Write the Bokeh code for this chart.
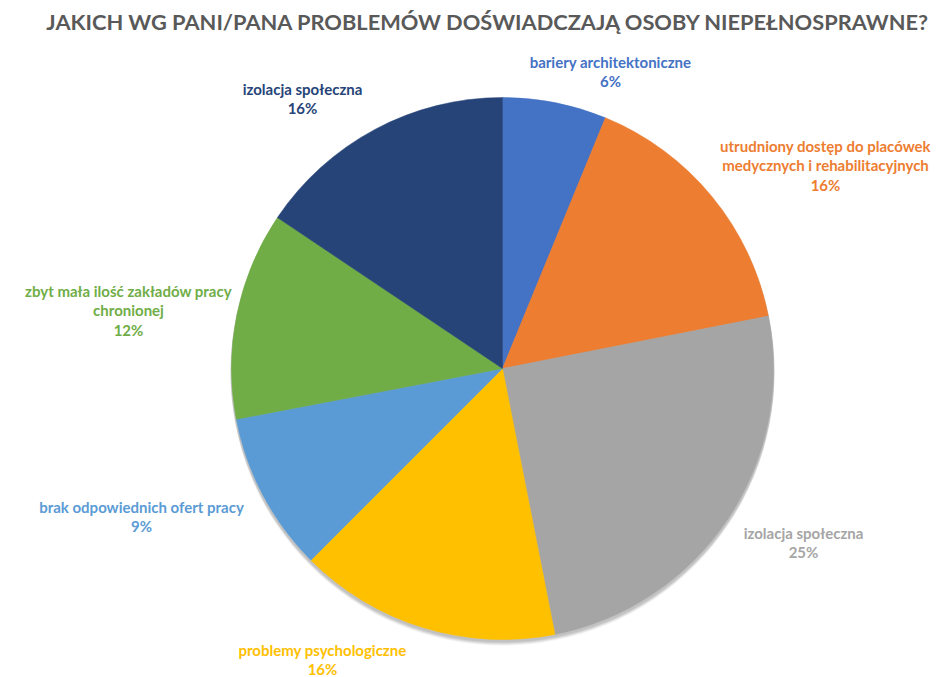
import math
from bokeh.plotting import figure
from bokeh.models import ColumnDataSource, Range1d
from bokeh.core.properties import value
from bokeh.embed import file_html
from bokeh.resources import INLINE

title = "JAKICH WG PANI/PANA PROBLEMÓW DOŚWIADCZAJĄ OSOBY NIEPEŁNOSPRAWNE?"
categories = [
    "bariery architektoniczne",
    "utrudniony dostęp do placówek medycznych i rehabilitacyjnych",
    "izolacja społeczna",
    "problemy psychologiczne",
    "brak odpowiednich ofert pracy",
    "zbyt mała ilość zakładów pracy chronionej",
    "izolacja społeczna",
]
values = [6.2, 15.7, 25.0, 15.6, 9.5, 12.4, 15.6]
pct_labels = ["6%", "16%", "25%", "16%", "9%", "12%", "16%"]
colors = ["#4472C4", "#ED7D31", "#A5A5A5", "#FFC000", "#5B9BD5", "#70AD47", "#264478"]
label_colors = ["#4472C4", "#ED7D31", "#A5A5A5", "#FFC000", "#5B9BD5", "#70AD47", "#264478"]

# layout: how category text is wrapped and where each label block sits (screen px)
label_lines = [
    ["bariery architektoniczne"],
    ["utrudniony dostęp do placówek", "medycznych i rehabilitacyjnych"],
    ["izolacja społeczna"],
    ["problemy psychologiczne"],
    ["brak odpowiednich ofert pracy"],
    ["zbyt mała ilość zakładów pracy", "chronionej"],
    ["izolacja społeczna"],
]
label_pos = [(610, 61), (825, 145), (803, 532), (322, 649), (141, 506), (128, 290), (302, 88)]

W, H = 949, 677
def sx(x):
    return x
def sy(y):
    return H - y

p = figure(width=W, height=H, output_backend="svg", toolbar_location=None,
           x_range=Range1d(0, W), y_range=Range1d(0, H), min_border=0,
           match_aspect=False)
p.axis.visible = False
p.grid.visible = False
p.outline_line_color = None
p.background_fill_color = "white"
p.border_fill_color = "white"

cx, cy, r = sx(502), sy(368), 271

# soft shadow
for off, a in [(5, 0.05), (4, 0.06), (3, 0.07), (2, 0.08)]:
    p.circle(x=[cx], y=[cy - off], radius=r + 1, fill_color="black", fill_alpha=a,
             line_color=None)

total = sum(values)
starts, ends = [], []
cum = 0.0
for v in values:
    starts.append(math.pi / 2 - cum / total * 2 * math.pi)
    cum += v
    ends.append(math.pi / 2 - cum / total * 2 * math.pi)

src = ColumnDataSource(dict(start=starts, end=ends, color=colors,
                            x=[cx] * len(values), y=[cy] * len(values)))
p.wedge(x="x", y="y", radius=r, start_angle="start", end_angle="end",
        direction="clock", fill_color="color", line_color="color", line_width=0.5,
        source=src)

# title
p.text(x=[sx(488)], y=[sy(21)], text=[title], text_font=value("Lato"),
       text_font_style="bold", text_font_size="21.8px", text_color="#595959",
       text_align="center", text_baseline="middle")

# labels
lx, ly, lt, lc = [], [], [], []
for lines, pct, (px, py), col in zip(label_lines, pct_labels, label_pos, label_colors):
    allines = lines + [pct]
    for k, t in enumerate(allines):
        lx.append(sx(px))
        ly.append(sy(py + k * 19.5))
        lt.append(t)
        lc.append(col)
p.text(x=lx, y=ly, text=lt, text_color=lc, text_font=value("Lato"),
       text_font_style="bold", text_font_size="15px",
       text_align="center", text_baseline="middle")

open("out.html", "w").write(file_html(p, INLINE))
